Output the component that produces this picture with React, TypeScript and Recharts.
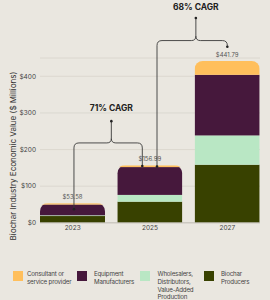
import React from "react"
import { BarChart, Bar, XAxis, YAxis, CartesianGrid, LabelList, Legend } from "recharts"

const YEARS = ["2023", "2025", "2027"]
const PRODUCERS = [18.5, 57.7, 158.6]
const WHOLESALERS = [2, 18.5, 80]
const EQUIPMENT = [29.5, 76, 165.5]
const CONSULTANT = [3.58, 4.79, 37.69]
const Y_TICKS = [0, 100, 200, 300, 400]

const SERIES = [
  { key: "producers", name: "Biochar\nProducers", color: "#384100", values: PRODUCERS },
  { key: "wholesalers", name: "Wholesalers,\nDistributors,\nValue-Added\nProduction", color: "#b9e7c4", values: WHOLESALERS },
  { key: "equipment", name: "Equipment\nManufacturers", color: "#46183c", values: EQUIPMENT },
  { key: "consultant", name: "Consultant or\nservice provider", color: "#ffbf5c", values: CONSULTANT },
]

// growth annotations: from bar -> to bar, value levels of the bracket parts
const CAGR = [
  { label: "71% CAGR", from: 0, to: 1, fromDx: 1.3, toDx: -7.7, tipDx: 0, startV: 103, endV: 202, braceV: 255, stemV: 305, textV: 335 },
  { label: "68% CAGR", from: 1, to: 2, fromDx: 7, toDx: 0, tipDx: 7.2, startV: 201, endV: 476, braceV: 490, stemV: 542, textV: 566 },
]

const W = 270
const H = 300
const M = { top: 58, right: 10, bottom: 34, left: 0 }
const Y_W = 40
const X_H = 12
const Y_MAX = 450
const PAD = -6
const RADIUS = 8
const FONT = "Inter, 'DejaVu Sans', sans-serif"

const data = YEARS.map((year, i) => {
  const row: Record<string, any> = { year }
  SERIES.forEach((s) => (row[s.key] = s.values[i]))
  row.total = SERIES.reduce((sum, s) => sum + s.values[i], 0)
  return row
})

// same mapping as the chart's axes, used only for the overlay annotations
const plotLeft = M.left + Y_W
const plotRight = W - M.right
const plotBottom = H - M.bottom - X_H
const plotTop = M.top
const band = (plotRight - plotLeft - 2 * PAD) / YEARS.length
const xC = (i: number) => plotLeft + PAD + band * (i + 0.5)
const yV = (v: number) => plotBottom - (v / Y_MAX) * (plotBottom - plotTop)

const makeShape = (idx: number) => (props: any) => {
  const { x, y, width, height, payload, index } = props
  const key = SERIES[idx].key
  const v = payload[key]
  if (!height || !v) return <g />
  const ratio = height / v
  const above = SERIES.slice(idx + 1).reduce((s, ser) => s + payload[ser.key], 0)
  const topY = y - above * ratio
  const id = `clip-${key}-${index}`
  return (
    <g>
      <defs>
        <clipPath id={id}>
          <rect x={x} y={topY} width={width} height={y + height - topY + RADIUS} rx={RADIUS} ry={RADIUS} />
        </clipPath>
      </defs>
      <rect x={x} y={y} width={width} height={height} fill={SERIES[idx].color} clipPath={`url(#${id})`} />
    </g>
  )
}

function Bracket({ a }: { a: (typeof CAGR)[number] }) {
  const x1 = xC(a.from) + a.fromDx
  const x2 = xC(a.to) + a.toDx
  const tx = (xC(a.from) + xC(a.to)) / 2 + a.tipDx
  const y1 = yV(a.startV)
  const y2 = yV(a.endV)
  const yb = yV(a.braceV)
  const ys = yV(a.stemV)
  const r = 5
  const c = 4.5
  const path = [
    `M ${x1} ${y1}`,
    `L ${x1} ${yb + r}`,
    `Q ${x1} ${yb} ${x1 + r} ${yb}`,
    `L ${tx - c} ${yb}`,
    `Q ${tx} ${yb} ${tx} ${yb - c}`,
    `Q ${tx} ${yb} ${tx + c} ${yb}`,
    `L ${x2 - r} ${yb}`,
    `Q ${x2} ${yb} ${x2} ${Math.min(yb + r, y2)}`,
    `L ${x2} ${y2}`,
    `M ${tx} ${yb - c}`,
    `L ${tx} ${ys}`,
  ].join(" ")
  return (
    <g>
      <path d={path} fill="none" stroke="#3a3a3a" strokeWidth={0.9} />
      <circle cx={x1} cy={y1} r={1.3} fill="#222" />
      <circle cx={x2} cy={y2} r={1.3} fill="#222" />
      <circle cx={tx} cy={ys} r={1.3} fill="#222" />
      <text x={tx} y={yV(a.textV)} textAnchor="middle" dominantBaseline="central" fontSize={8.5} fontWeight={700} fill="#222" fontFamily={FONT}>
        {a.label}
      </text>
    </g>
  )
}

function LegendBox() {
  return (
    <div style={{ display: "flex", paddingLeft: 13, fontFamily: FONT }}>
      {[...SERIES].reverse().map((s, i) => (
        <div key={s.key} style={{ width: 63.5, display: "flex", alignItems: "flex-start" }}>
          <div style={{ width: 10, height: 10, background: s.color, marginTop: 1, flexShrink: 0 }} />
          <div
            style={{
              marginLeft: i === 0 ? 4 : 7.5,
              fontSize: 6.2,
              letterSpacing: -0.2,
              lineHeight: "7.8px",
              color: "#444",
              whiteSpace: "pre",
            }}
          >
            {s.name}
          </div>
        </div>
      ))}
    </div>
  )
}

export default function App() {
  return (
    <div style={{ position: "absolute", left: 0, top: 0, width: W, height: H, background: "#eae7e0", overflow: "hidden" }}>
      <BarChart width={W} height={H} data={data} margin={M} barSize={65} style={{ fontFamily: FONT }}>
        <CartesianGrid vertical={false} stroke="#d8d4cc" strokeWidth={0.8} />
        <XAxis
          dataKey="year"
          height={X_H}
          padding={{ left: PAD, right: PAD }}
          tickLine={false}
          axisLine={{ stroke: "#c4c0b8" }}
          tickSize={0}
          tickMargin={3}
          tick={{ fontSize: 6.5, fill: "#444" }}
        />
        <YAxis
          domain={[0, Y_MAX]}
          ticks={Y_TICKS}
          width={Y_W}
          axisLine={false}
          tickLine={false}
          tickSize={2}
          tickMargin={2}
          tick={{ fontSize: 6.5, fill: "#444" }}
          tickFormatter={(v) => `$${v}`}
        />
        {SERIES.map((s, idx) => (
          <Bar key={s.key} dataKey={s.key} name={s.name} stackId="a" fill={s.color} isAnimationActive={false} shape={makeShape(idx)}>
            {idx === SERIES.length - 1 && (
              <LabelList
                dataKey="total"
                content={(p: any) => (
                  <text
                    x={p.x + p.width / 2}
                    y={p.y - 4}
                    textAnchor="middle"
                    fontSize={6}
                    fill="#555"
                    fontFamily={FONT}
                  >
                    {`$${Number(data[p.index].total).toFixed(2)}`}
                  </text>
                )}
              />
            )}
          </Bar>
        ))}
        <Legend content={() => <LegendBox />} wrapperStyle={{ top: 270, left: 0, width: W, bottom: "auto" }} />
      </BarChart>
      <svg width={W} height={H} style={{ position: "absolute", left: 0, top: 0, pointerEvents: "none" }}>
        <text
          transform={`translate(12.5, ${(plotTop + plotBottom) / 2}) rotate(-90)`}
          textAnchor="middle"
          dominantBaseline="central"
          fontSize={8}
          fill="#333"
          fontFamily={FONT}
        >
          Biochar Industry Economic Value ($ Millions)
        </text>
        {CAGR.map((a) => (
          <Bracket key={a.label} a={a} />
        ))}
      </svg>
    </div>
  )
}
